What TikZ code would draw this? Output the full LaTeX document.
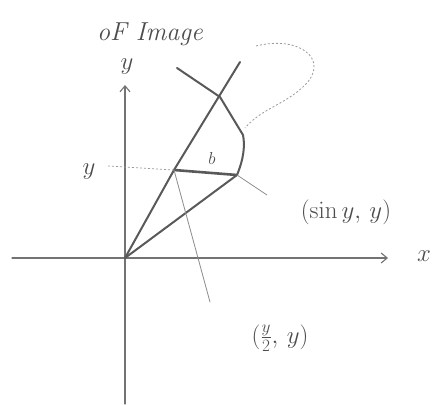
\documentclass[tikz,border=0pt]{standalone}
\usetikzlibrary{arrows.meta}
\begin{document}
\begin{tikzpicture}[x=1pt,y=-1pt,
  pencil/.style={draw=black!55, line width=1.1pt, line cap=round},
  heavy/.style={draw=black!65, line width=2pt, line cap=round},
  thin/.style={draw=black!45, line width=0.8pt, line cap=round},
  dots/.style={draw=black!40, line width=0.7pt, dash pattern=on 2pt off 2pt},
  lab/.style={text=black!70, inner sep=0pt, font=\fontsize{24}{26}\selectfont}]
\useasboundingbox (0,0) rectangle (444,404);
% axes
\coordinate (O) at (125,258);
\coordinate (xs) at (12,258);
\coordinate (xe) at (388,258);
\coordinate (ys) at (125,404);
\coordinate (ye) at (125,85);
\draw[pencil, -{Straight Barb[length=6pt,width=10pt]}] (xs) -- (xe);
\draw[pencil, -{Straight Barb[length=6pt,width=10pt]}] (ys) -- (ye);
\node[lab] (xl) at (424,256) {$x$};
\node[lab] (yl) at (127,67) {$y$};
% points
\coordinate (A) at (174,170);
\coordinate (B) at (237,175);
\coordinate (Ltop) at (240,62);
\coordinate (Ctop) at (177,68);
\coordinate (Cx) at (220,97);
\coordinate (Cr) at (243,135);
% line x = y/2
\draw[heavy] (O) -- (A) -- (Ltop);
% curve x = sin y
\draw[heavy] (O) -- (B);
\draw[heavy] (B) .. controls (244,158) and (245,145) .. (Cr) -- (Cx) -- (Ctop);
% horizontal segment
\draw[heavy, line width=2.6pt] (A) -- (B);
% dotted level line
\node[lab] (Yl) at (89,172) {$y$};
\coordinate (Ys) at (108,166);
\draw[dots] (Ys) -- (A);
\node[lab, font=\fontsize{18}{20}\selectfont] (bl) at (212,158) {$b$};
% leaders and labels
\coordinate (La) at (210,302);
\coordinate (Lb) at (267,195);
\draw[thin] (A) -- (La);
\draw[thin] (B) -- (Lb);
\node[lab] (pb) at (346,212) {$(\sin y,\,y)$};
\node[lab] (pa) at (280,338) {$\Bigl(\frac{y}{2},\,y\Bigr)$};
% top text with loop pointer
\node[lab, font=\fontsize{26}{28}\selectfont\itshape] (title) at (150,34) {oF Image};
\coordinate (T1) at (256,46);
\coordinate (T2) at (245,128);
\draw[dots, line width=0.8pt] (T1) .. controls (300,35) and (330,60) .. (305,85) .. controls (285,105) and (262,108) .. (T2);
\end{tikzpicture}
\end{document}
